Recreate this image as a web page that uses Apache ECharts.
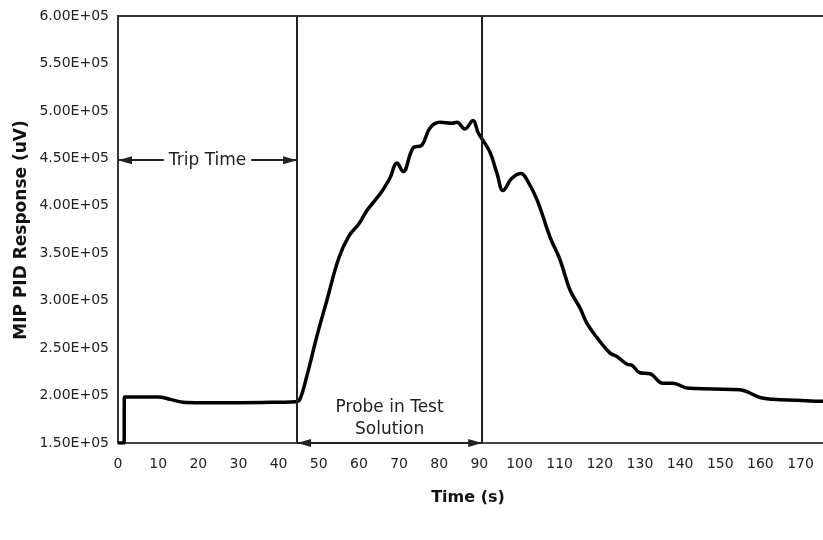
<!DOCTYPE html>
<html>
<head>
<meta charset="utf-8">
<script src="https://cdn.jsdelivr.net/npm/echarts@6/dist/echarts.min.js"></script>
<style>
html,body{margin:0;padding:0;background:#fff;}
#chart{width:823px;height:540px;}
</style>
</head>
<body>
<div id="chart"></div>
<script>
// Time (s)
const times = [0, 1.5, 1.6, 2.2, 10, 13, 16.2, 20.4, 30.4, 40.3, 44.3, 45.3, 47, 49.5, 52, 55, 57.5, 60, 62, 63.5, 66, 67.7, 69.5, 71, 73.5, 75.7, 77.7, 80.2, 83.2, 84.4, 86.4, 88.4, 89.7, 90.9, 92.7, 94.4, 95.9, 98.1, 100.4, 101.9, 104.4, 107.6, 110.1, 112.6, 115.1, 116.8, 119.3, 122.5, 124.3, 126.8, 128, 130, 132.5, 135.7, 138.2, 141.7, 148.2, 154.9, 159.9, 163.1, 169.1, 175.6, 180];
// MIP PID Response (uV)
const response = [150000, 150000, 198500, 198500, 198500, 196000, 193000, 192500, 192500, 193000, 193500, 196000, 220000, 262000, 300000, 345000, 368000, 381000, 395000, 403000, 417000, 429000, 445000, 436000, 461000, 464000, 482000, 488000, 487000, 488000, 481000, 490000, 477000, 469000, 456000, 434000, 416000, 429000, 434000, 427000, 406000, 367000, 343000, 311000, 292000, 276000, 261000, 245000, 241000, 233000, 232000, 224000, 223000, 213000, 213000, 208000, 207000, 206000, 198000, 196000, 195000, 194000, 194000];
// annotation values
const tripStart = 0, tripEnd = 44.6, probeEnd = 90.7;
const tripArrowLevel = 448000, probeArrowLevel = 150000;
const xTicks = [0, 10, 20, 30, 40, 50, 60, 70, 80, 90, 100, 110, 120, 130, 140, 150, 160, 170, 180];
const yTicks = ['1.50E+05','2.00E+05','2.50E+05','3.00E+05','3.50E+05','4.00E+05','4.50E+05','5.00E+05','5.50E+05','6.00E+05'];

const FONT = 'DejaVu Sans';
const chart = echarts.init(document.getElementById('chart'), null, {renderer: 'canvas'});
const arrowHead = {symbol: 'triangle', symbolSize: [8, 14], symbolOffset: [0, 7]};
const option = {
  animation: false,
  backgroundColor: '#fff',
  grid: {left: 118, top: 16, right: -17.7, bottom: 97, show: true, borderColor: '#333', borderWidth: 2,
         backgroundColor: 'transparent', outerBoundsMode: 'none', containLabel: false},
  xAxis: {
    type: 'value', min: xTicks[0], max: xTicks[xTicks.length - 1], interval: 10,
    axisLine: {show: true, lineStyle: {color: '#444', width: 2}},
    axisTick: {show: false},
    splitLine: {show: false},
    axisLabel: {fontFamily: FONT, fontSize: 14, color: '#222', margin: 14}
  },
  yAxis: {
    type: 'value', min: 150000, max: 600000, interval: 50000,
    axisLine: {show: true, lineStyle: {color: '#333', width: 2}},
    axisTick: {show: false},
    splitLine: {show: false},
    axisLabel: {fontFamily: FONT, fontSize: 14, color: '#222', margin: 9,
      formatter: function (v) { return yTicks[Math.round((v - 150000) / 50000)]; }}
  },
  graphic: [
    {type: 'text', x: 468, y: 498, style: {text: 'Time (s)', font: 'bold 16px "DejaVu Sans"', fill: '#111', textAlign: 'center', textVerticalAlign: 'middle'}},
    {type: 'text', x: 22, y: 230, rotation: Math.PI / 2, style: {text: 'MIP PID Response (uV)', font: 'bold 17px "DejaVu Sans"', fill: '#111', textAlign: 'center', textVerticalAlign: 'middle'}}
  ],
  series: [{
    type: 'line',
    data: times.map((t, i) => [t, response[i]]),
    showSymbol: false,
    smooth: 0.4,
    lineStyle: {color: '#000', width: 3.5},
    z: 3,
    markLine: {
      silent: true,
      animation: false,
      symbol: 'none',
      lineStyle: {color: '#222', width: 2, type: 'solid'},
      label: {show: false},
      data: [
        {xAxis: tripEnd},
        {xAxis: probeEnd},
        [
          Object.assign({coord: [tripStart, tripArrowLevel]}, arrowHead),
          Object.assign({coord: [tripEnd, tripArrowLevel],
           label: {show: true, position: 'middle', distance: 0, verticalAlign: 'middle', formatter: 'Trip Time', fontFamily: FONT, fontSize: 17, color: '#222', backgroundColor: '#fff', padding: [2, 5]}}, arrowHead)
        ],
        [
          Object.assign({coord: [tripEnd, probeArrowLevel]}, arrowHead),
          Object.assign({coord: [probeEnd, probeArrowLevel],
           label: {show: true, position: 'insideMiddleTop', distance: 2, formatter: 'Probe in Test\nSolution', fontFamily: FONT, fontSize: 17, lineHeight: 22, color: '#222', align: 'center'}}, arrowHead)
        ]
      ]
    }
  }]
};
chart.setOption(option);
</script>
</body>
</html>
